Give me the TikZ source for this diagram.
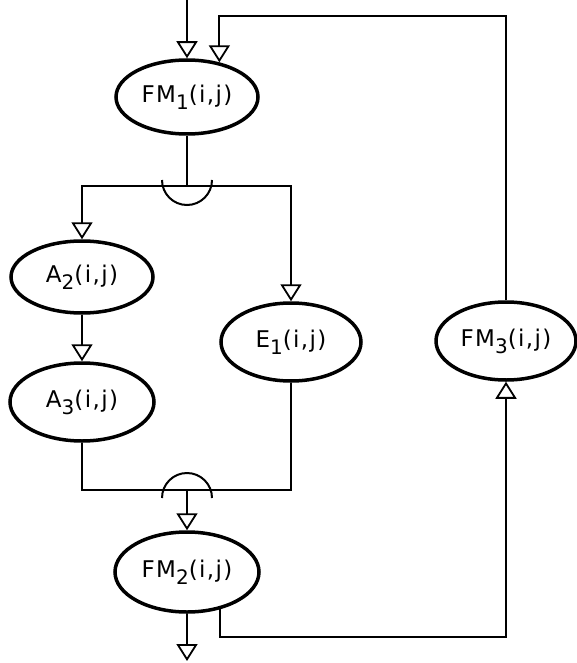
\documentclass[tikz,border=0pt]{standalone}
\usepackage{fontspec}
\setsansfont{DejaVu Sans}[LetterSpace=6]
\usetikzlibrary{shapes.geometric,arrows.meta}
\newcommand{\sub}[1]{\raisebox{-7pt}{\fontsize{20}{20}\selectfont #1}}
\begin{document}
\begin{tikzpicture}[x=1pt,y=-1pt,
  proc/.style={draw, ellipse, line width=3.5pt, inner sep=0pt,
    minimum width=142pt, minimum height=74pt,
    font=\sffamily\fontsize{23}{23}\selectfont},
  link/.style={line width=2pt},
  tip/.style={link, -{Triangle[open, length=17pt, width=21pt, line width=1.8pt]}}]
\useasboundingbox (0,0) rectangle (576,663);

% blocks
\node[proc] (fm1) at (187,97) {FM\sub{1}(i,j)};
\node[proc, minimum height=72pt] (a2) at (82,277) {A\sub{2}(i,j)};
\node[proc, minimum width=144pt, minimum height=78pt] (a3) at (82,402) {A\sub{3}(i,j)};
\node[proc, minimum width=140pt, minimum height=78pt] (e1) at (291,342) {E\sub{1}(i,j)};
\node[proc, minimum width=140pt, minimum height=78pt] (fm3) at (506,341) {FM\sub{3}(i,j)};
\node[proc, minimum width=144pt, minimum height=80pt] (fm2) at (187,572) {FM\sub{2}(i,j)};

% junction and loop points
\coordinate (in)  at (187,0);
\coordinate (out) at (187,661);
\coordinate (s)   at (187,186);
\coordinate (j)   at (187,490);
\coordinate (lt)  at (506,16);
\coordinate (lb)  at (506,637);

% input and output
\draw[tip] (in) -- (fm1.north);
\draw[tip] (fm2.south) -- (out);

% fork below FM1
\draw[link] (fm1.south) -- (s);
\draw[tip] (s) -| (a2.north);
\draw[tip] (s) -| (e1.north);
\draw[link] ([xshift=-25pt,yshift=6pt]s) arc[start angle=180, end angle=360, radius=25pt];

% chain A2 -> A3
\draw[tip] (a2.south) -- (a3.north);

% join above FM2
\draw[link] (a3.south) |- (j);
\draw[link] (e1.south) |- (j);
\draw[link] ([xshift=-25pt,yshift=-8pt]j) arc[start angle=180, end angle=0, radius=25pt];
\draw[tip] (j) -- (fm2.north);

% feedback loop through FM3
\draw[tip] (fm2.-48) |- (lb) -- (fm3.south);
\draw[tip] (fm3.north) -- (lt) -| (fm1.47);
\end{tikzpicture}
\end{document}
